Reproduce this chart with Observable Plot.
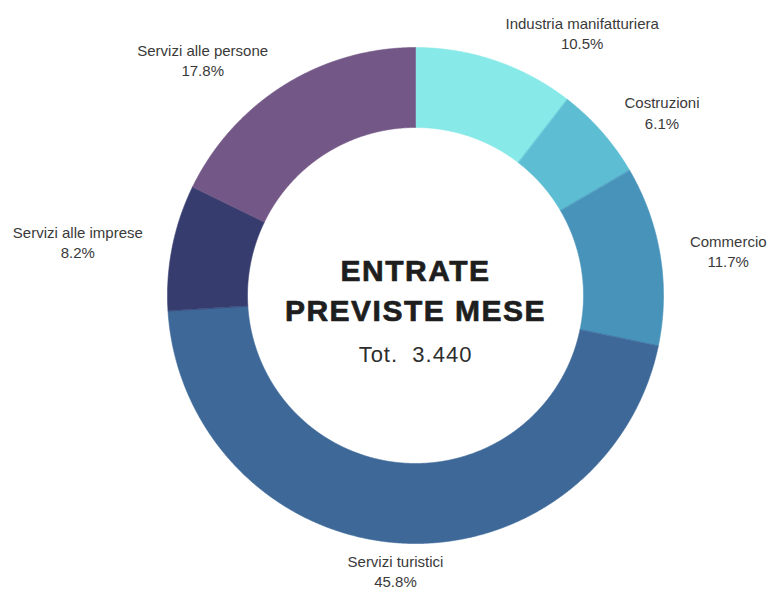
<!DOCTYPE html>
<html>
<head>
<meta charset="utf-8">
<script src="https://cdn.jsdelivr.net/npm/d3@7"></script>
<script src="https://cdn.jsdelivr.net/npm/@observablehq/plot@0.6"></script>
<style>
  html, body { margin: 0; padding: 0; background: #ffffff; }
  #chart { width: 769px; height: 590px; }
</style>
</head>
<body>
<div id="chart"></div>
<script>
// ---- data ----
const categories = [
  "Industria manifatturiera",
  "Costruzioni",
  "Commercio",
  "Servizi turistici",
  "Servizi alle imprese",
  "Servizi alle persone"
];
const shares = [10.5, 6.1, 11.7, 45.8, 8.2, 17.8];
const colors = ["#87E9E8", "#5DBDD3", "#4893BA", "#3D6898", "#363D6E", "#735887"];
const titleLines = ["ENTRATE", "PREVISTE MESE"];
const totalLabel = "Tot.  3.440";

// ---- layout constants ----
const W = 769, H = 590;
const cx = 415, cy = 295;      // pixel centre of the donut
const R = 248, r0 = 168, labelR = 278;

// ---- build slices ----
const total = d3.sum(shares);
let acc = 0;
const slices = categories.map((cat, i) => {
  const a0 = acc / total * 2 * Math.PI;
  acc += shares[i];
  const a1 = acc / total * 2 * Math.PI;
  return {cat, share: shares[i], a0, a1, mid: (a0 + a1) / 2};
});

const step = Math.PI / 720;
const polyPts = [];
for (const s of slices) {
  const n = Math.max(2, Math.ceil((s.a1 - s.a0) / step));
  for (let k = 0; k <= n; k++) {
    const a = s.a0 + (s.a1 - s.a0) * k / n;
    polyPts.push({cat: s.cat, x: R * Math.sin(a), y: R * Math.cos(a)});
  }
  for (let k = n; k >= 0; k--) {
    const a = s.a0 + (s.a1 - s.a0) * k / n;
    polyPts.push({cat: s.cat, x: r0 * Math.sin(a), y: r0 * Math.cos(a)});
  }
}

const labels = slices.map(s => ({
  cat: s.cat,
  text: `${s.cat}\n${s.share.toFixed(1)}%`,
  x: labelR * Math.sin(s.mid),
  y: labelR * Math.cos(s.mid),
  side: Math.abs(Math.sin(s.mid)) < 0.15 ? "middle" : (Math.sin(s.mid) > 0 ? "start" : "end")
}));

const centre = [{x: 0, y: 0}];

const labelStyle = {
  x: "x", y: "y", text: "text",
  fontSize: 15, lineHeight: 1.35, lineAnchor: "middle", textAnchor: "middle",
  fill: "#3a3a3a", fontFamily: "Liberation Sans, Arial, sans-serif"
};

const plot = Plot.plot({
  width: W, height: H,
  margin: 0,
  x: {domain: [-cx, W - cx], axis: null},
  y: {domain: [-(H - cy), cy], axis: null},
  color: {domain: categories, range: colors},
  style: {background: "#ffffff", fontFamily: "Liberation Sans, Arial, sans-serif"},
  marks: [
    Plot.line(polyPts, {x: "x", y: "y", z: "cat", fill: "cat", stroke: "cat", strokeWidth: 0.6, curve: "linear-closed"}),
    Plot.text(labels, {...labelStyle, filter: d => d.side === "start", className: "lab-start"}),
    Plot.text(labels, {...labelStyle, filter: d => d.side === "end", className: "lab-end"}),
    Plot.text(labels, {...labelStyle, filter: d => d.side === "middle", dy: -2}),
    Plot.text(centre, {x: "x", y: "y", text: () => titleLines[0], dy: -24, fontSize: 30, fontWeight: "bold",
      fill: "#1e1e1e", stroke: "#1e1e1e", strokeWidth: 0.7, textAnchor: "middle", lineAnchor: "middle",
      fontFamily: "Liberation Sans, Arial, sans-serif"}),
    Plot.text(centre, {x: "x", y: "y", text: () => titleLines[1], dy: 16, fontSize: 30, fontWeight: "bold",
      fill: "#1e1e1e", stroke: "#1e1e1e", strokeWidth: 0.7, textAnchor: "middle", lineAnchor: "middle",
      fontFamily: "Liberation Sans, Arial, sans-serif"}),
    Plot.text(centre, {x: "x", y: "y", text: () => totalLabel, dy: 59, fontSize: 22,
      fill: "#2e2e2e", textAnchor: "middle", lineAnchor: "middle",
      fontFamily: "Liberation Sans, Arial, sans-serif"})
  ]
});

document.getElementById("chart").appendChild(plot);

// letter spacing for centre text
plot.querySelectorAll("text").forEach(t => {
  const s = t.textContent;
  if (s === titleLines[0] || s === titleLines[1]) t.setAttribute("letter-spacing", "1.5");
  if (s === totalLabel) { t.setAttribute("letter-spacing", "1"); t.style.whiteSpace = "pre"; }
});

// side labels: block anchored to the outside, lines centred within the block
for (const [cls, sign] of [["lab-start", 1], ["lab-end", -1]]) {
  plot.querySelectorAll(`g.${cls} text`).forEach(t => {
    const spans = t.querySelectorAll("tspan");
    let w = 0;
    if (spans.length) spans.forEach(sp => { w = Math.max(w, sp.getComputedTextLength()); });
    else w = t.getComputedTextLength();
    const tr = t.getAttribute("transform") || "";
    t.setAttribute("transform", `${tr} translate(${sign * w / 2},0)`);
  });
}
</script>
</body>
</html>
